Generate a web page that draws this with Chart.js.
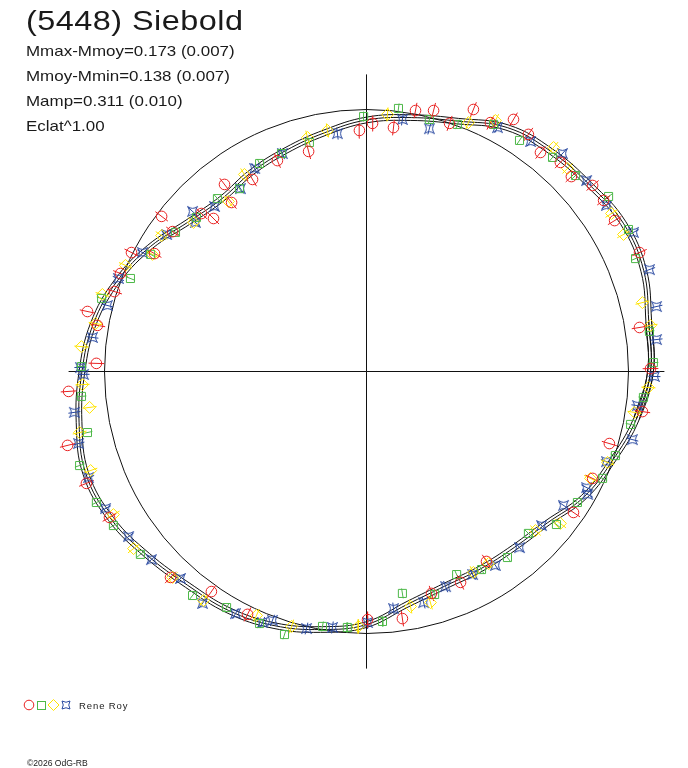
<!DOCTYPE html>
<html><head><meta charset="utf-8">
<script src="https://cdn.jsdelivr.net/npm/chart.js@4.4.1/dist/chart.umd.min.js"></script>
<style>
html,body{margin:0;padding:0;background:#fff;overflow:hidden;}
#wrap{position:relative;width:688px;height:768px;}
#c{position:absolute;left:0;top:0;}
.t{position:absolute;font-family:"Liberation Sans",Arial,sans-serif;color:#1a1a1a;white-space:nowrap;line-height:1;transform-origin:0 0;}
.s{font-size:15px;transform:scaleX(1.13);}
</style></head><body>
<div id="wrap">
<canvas id="c" width="688" height="768"></canvas>
<div class="t" style="left:26px;top:8px;font-size:27px;letter-spacing:0.4px;transform:scaleX(1.2);">(5448) Siebold</div>
<div class="t s" style="left:26px;top:43px;">Mmax-Mmoy=0.173 (0.007)</div>
<div class="t s" style="left:26px;top:68px;">Mmoy-Mmin=0.138 (0.007)</div>
<div class="t s" style="left:26px;top:93px;">Mamp=0.311 (0.010)</div>
<div class="t s" style="left:26px;top:118px;">Eclat^1.00</div>
<svg style="position:absolute;left:0;top:690px" width="80" height="30">
  <circle cx="29" cy="15" r="4.8" stroke="#e82020" fill="none" stroke-width="1"/>
  <rect x="37.5" y="11.5" width="8" height="8" stroke="#4db848" fill="none" stroke-width="1"/>
  <polygon points="53.5,9.5 59,15 53.5,20.5 48,15" stroke="#ffe400" fill="none" stroke-width="1"/>
  <path d="M62,11 Q66,13.5 70,11 Q67.5,15 70,19 Q66,16.5 62,19 Q64.5,15 62,11 Z" stroke="#2848a0" fill="none" stroke-width="1"/>
</svg>
<div class="t" style="left:79px;top:701px;font-size:9.5px;letter-spacing:0.9px;">Rene Roy</div>
<div class="t" style="left:27px;top:759px;font-size:8.6px;">©2026 OdG-RB</div>
</div>
<script>
// ---- data (units: reference circle radius = 100) ----
const redPts = [[-2.7,92.0],[-22.1,84.0],[-34.0,80.5],[-43.5,73.3],[-54.2,71.4],[-51.5,64.5],[-58.4,58.4],[-63.0,60.3],[-78.2,59.2],[-74.0,53.4],[-89.7,45.4],[-80.9,45.0],
[2.3,94.7],[10.3,93.1],[18.7,99.6],[25.6,99.6],[31.7,94.7],[40.8,100.0],[47.3,95.0],[56.1,96.2],[61.8,90.5],[66.4,83.6],[74.0,79.8],[78.2,74.4],[86.3,71.0],[90.5,65.3],[94.7,57.6],[104.2,45.4],
[104.2,16.8],[108.4,1.1],[105.3,-15.3],[92.7,-27.5],[86.3,-40.8],
[-93.9,37.4],[-96.2,30.5],[-106.5,22.9],[-102.7,17.6],[-103.1,3.1],[-113.7,-7.6],[-114.1,-28.2],
[-106.9,-42.7],[-98.1,-55.7],[-74.8,-78.6],[-59.2,-84.0],[-45.4,-92.7],[0.4,-94.7],
[13.7,-94.3],[24.8,-84.7],[35.9,-80.5],[45.8,-72.5],[79.0,-53.8]];
const greenPts = [[-1.1,97.3],[-21.8,87.4],[-32.4,83.2],[-40.8,79.4],[-48.5,69.8],[-56.9,66.0],[-64.9,58.8],[-72.9,53.1],[-82.4,44.7],
[12.2,100.4],[24.0,96.2],[34.7,94.3],[48.5,94.3],[58.4,88.2],[71.0,81.7],[79.8,74.8],[92.4,66.8],[100.0,54.2],[102.7,43.1],
[108.0,15.3],[109.5,3.4],[105.7,-9.9],[100.8,-20.2],[95.0,-32.1],[90.1,-40.8],
[-90.1,35.5],[-101.1,27.9],[-108.8,1.9],[-108.8,-9.5],[-106.5,-23.3],[-109.5,-35.9],
[-103.1,-50.0],[-96.6,-58.8],[-86.3,-69.8],[-66.4,-85.5],[-53.4,-90.1],[-40.8,-96.2],[-31.3,-100.4],[-16.8,-97.3],[-7.3,-97.7],
[6.1,-95.4],[13.7,-84.7],[26.0,-85.1],[34.4,-77.5],[43.9,-75.6],[53.8,-71.0],[61.8,-61.8],[72.5,-58.4],[80.5,-50.0]];
const yellowPts = [[-14.9,92.0],[-22.5,89.3],[-46.6,75.2],[-52.7,64.9],[-66.0,56.9],[-78.2,51.9],[-81.7,44.7],[-92.0,40.5],
[8.0,98.1],[38.9,95.0],[49.2,95.8],[71.4,85.5],[76.7,77.5],[93.5,60.3],[98.1,52.3],
[105.3,26.3],[108.4,17.6],[107.6,-6.1],[102.3,-15.6],[92.0,-34.7],[85.5,-40.8],
[-100.8,29.4],[-103.4,18.3],[-108.8,9.5],[-108.4,-5.0],[-105.7,-13.7],[-109.5,-23.3],[-105.3,-37.8],
[-96.6,-54.6],[-88.9,-67.6],[-74.0,-78.6],[-62.2,-87.4],[-42.0,-93.1],[-28.6,-97.3],[-3.1,-97.3],
[16.8,-89.7],[24.4,-88.2],[40.8,-76.7],[46.6,-73.3],[64.5,-60.7],[74.0,-58.0]];
const bluePts = [[-11.1,90.8],[-32.1,83.2],[-42.7,77.5],[-48.1,69.8],[-58.0,63.0],[-66.4,61.1],[-65.3,56.9],[-76.3,52.3],[-85.5,45.4],
[13.7,96.2],[24.0,92.7],[50.0,93.1],[62.6,87.8],[74.8,83.2],[84.0,72.9],[91.6,63.4],[101.9,53.1],
[108.0,38.9],[110.7,24.8],[110.7,12.2],[109.9,-1.9],[103.4,-13.0],[101.5,-26.0],[91.6,-34.4],
[-94.7,35.5],[-98.9,25.2],[-104.6,13.0],[-109.2,1.5],[-108.0,-1.1],[-111.5,-15.6],[-109.9,-27.5],[-106.1,-40.5],
[-99.6,-52.3],[-90.8,-63.0],[-82.1,-71.8],[-71.0,-79.0],[-62.6,-88.5],[-50.0,-92.4],[-39.7,-95.8],[-35.9,-95.0],[-22.9,-98.1],[-13.0,-97.7],[0.4,-95.8],
[10.3,-90.5],[21.8,-88.2],[30.2,-82.1],[40.5,-77.5],[49.2,-74.0],[58.4,-67.2],[66.8,-58.8],[75.2,-51.1],[84.4,-46.9],[84.0,-44.3]];
const errRed = 3.0, errGreen = 1.9, errYellow = 2.7, errBlue = 2.3;
const fitAngles = [0,10,20,30,40,50,60,70,80,90,100,110,120,130,140,150,160,170,180,190,200,210,220,230,240,250,260,270,280,290,300,310,320,330,340,350];
const fitR = [108.4,109.4,112.6,113.2,111.0,109.6,107.5,101.7,98.4,96.0,92.5,89.8,87.8,86.0,88.8,95.3,101.2,105.8,108.6,111.4,114.0,112.6,109.2,106.4,105.3,103.2,100.0,96.6,90.2,87.2,87.0,87.7,90.0,95.8,99.8,104.6];
const fitBand = 1.1;
const refRadius = 100;
const axisHalfX = 113.7, axisHalfY = 113.4;

// ---- layout ----
const W = 688, H = 768, CX = 366.5, CY = 371.5, PX = 2.62;
const RED = '#e82020', GREEN = '#4db848', YELLOW = '#ffe400', BLUE = '#2848a0', INK = '#111';

const toXY = p => ({x: p[0], y: p[1]});
function errBars(pts, e) {
  const out = [];
  pts.forEach(p => {
    const r = Math.hypot(p[0], p[1]), ux = p[0] / r, uy = p[1] / r;
    out.push({x: (r - e) * ux, y: (r - e) * uy}, {x: (r + e) * ux, y: (r + e) * uy}, {x: null, y: null});
  });
  return out;
}
function fitCurve(off) {
  const n = fitAngles.length;
  const pt = i => { const k = ((i % n) + n) % n; const t = fitAngles[k] * Math.PI / 180, r = fitR[k] + off; return {x: r * Math.cos(t), y: r * Math.sin(t)}; };
  const out = [];
  for (let i = -1; i <= n + 1; i++) out.push(pt(i));
  return out;
}
function makeStar(color) {
  const c = document.createElement('canvas'); c.width = 13; c.height = 13;
  const g = c.getContext('2d'); g.strokeStyle = color; g.lineWidth = 1;
  const m = 6.5, t = 5, k = 1.2;
  g.beginPath();
  g.moveTo(m - t, m - t);
  g.quadraticCurveTo(m, m - k, m + t, m - t);
  g.quadraticCurveTo(m + k, m, m + t, m + t);
  g.quadraticCurveTo(m, m + k, m - t, m + t);
  g.quadraticCurveTo(m - k, m, m - t, m - t);
  g.closePath(); g.stroke();
  return c;
}
const marker = (label, pts, style, radius, color) => ({
  label, data: pts.map(toXY), showLine: false, pointStyle: style, pointRadius: radius,
  pointBorderColor: color, pointBackgroundColor: 'rgba(0,0,0,0)', pointBorderWidth: 1, borderColor: color
});
const bars = (label, pts, e, color) => ({
  label, data: errBars(pts, e), showLine: true, spanGaps: false, pointRadius: 0, borderColor: color, borderWidth: 1, tension: 0
});
const line = (label, data, tension) => ({
  label, data, showLine: true, pointRadius: 0, borderColor: INK, borderWidth: 1, tension, fill: false
});

const refCircle = {
  id: 'refCircle',
  beforeDatasetsDraw(chart) {
    const xs = chart.scales.x, ys = chart.scales.y, ctx = chart.ctx;
    const cx = xs.getPixelForValue(0), cy = ys.getPixelForValue(0);
    const r = xs.getPixelForValue(refRadius) - cx;
    ctx.save(); ctx.strokeStyle = INK; ctx.lineWidth = 1;
    ctx.beginPath(); ctx.arc(cx, cy, r, 0, Math.PI * 2); ctx.stroke(); ctx.restore();
  }
};

new Chart(document.getElementById('c'), {
  type: 'scatter',
  data: { datasets: [
    marker('Rene Roy (o)', redPts, 'circle', 5.3, RED),
    marker('Rene Roy (square)', greenPts, 'rect', 5.7, GREEN),
    marker('Rene Roy (diamond)', yellowPts, 'rectRot', 6, YELLOW),
    marker('Rene Roy (star)', bluePts, makeStar(BLUE), 6, BLUE),
    bars('err r', redPts, errRed, RED),
    bars('err g', greenPts, errGreen, GREEN),
    bars('err y', yellowPts, errYellow, YELLOW),
    bars('err b', bluePts, errBlue, BLUE),
    line('fit', fitCurve(0), 0.4),
    line('fit+', fitCurve(fitBand), 0.4),
    line('fit-', fitCurve(-fitBand), 0.4),
    line('axis x', [{x: -axisHalfX, y: 0}, {x: axisHalfX, y: 0}], 0),
    line('axis y', [{x: 0, y: -axisHalfY}, {x: 0, y: axisHalfY}], 0)
  ]},
  options: {
    responsive: false, animation: false, events: [],
    layout: { padding: 0, autoPadding: false },
    plugins: { legend: { display: false }, tooltip: { enabled: false } },
    scales: {
      x: { type: 'linear', display: false, min: -CX / PX, max: (W - CX) / PX },
      y: { type: 'linear', display: false, min: -(H - CY) / PX, max: CY / PX }
    }
  },
  plugins: [refCircle]
});
</script>
</body></html>
